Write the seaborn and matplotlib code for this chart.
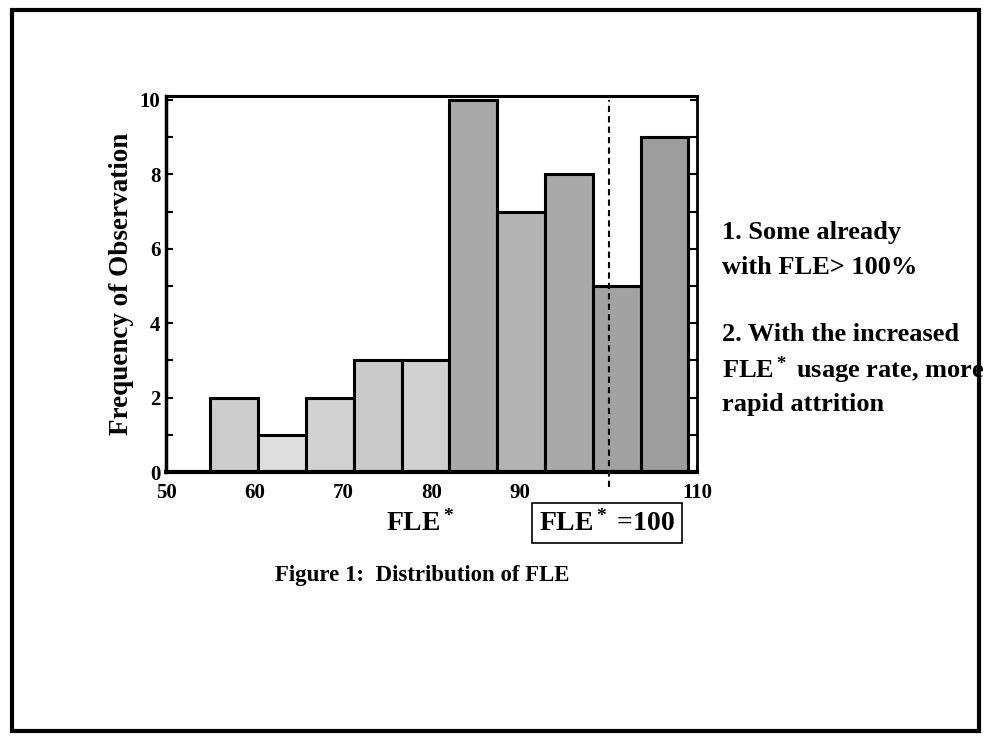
import matplotlib
matplotlib.use("Agg")
import matplotlib.pyplot as plt
import seaborn as sns
import numpy as np
from matplotlib.patches import Rectangle

# Datos
bin_edges = [55.0, 60.4, 65.8, 71.2, 76.6, 82.0, 87.4, 92.8, 98.2, 103.6, 109.0]
counts = [2, 1, 2, 3, 3, 10, 7, 8, 5, 9]
x_ticks = [50, 60, 70, 80, 90, 110]
y_ticks = [0, 2, 4, 6, 8, 10]
fle_ref = 100

notes = [
    "1. Some already",
    "with FLE> 100%",
    "2. With the increased",
    "FLE$^*$ usage rate, more",
    "rapid attrition",
]

bar_colors = ["#cdcdcd", "#dedede", "#d2d2d2", "#c9c9c9", "#d0d0d0",
              "#a9a9a9", "#b3b3b3", "#a9a9a9", "#a2a2a2", "#9d9d9d"]

sns.set_style("white")
plt.rcParams["font.family"] = ["Liberation Serif", "DejaVu Serif"]
plt.rcParams["font.weight"] = "bold"
plt.rcParams["text.color"] = "black"
plt.rcParams["axes.labelcolor"] = "black"
plt.rcParams["xtick.color"] = "black"
plt.rcParams["ytick.color"] = "black"
plt.rcParams["mathtext.fontset"] = "custom"
plt.rcParams["mathtext.rm"] = "Liberation Serif:bold"
plt.rcParams["mathtext.it"] = "Liberation Serif:bold"
plt.rcParams["mathtext.bf"] = "Liberation Serif:bold"

fig = plt.figure(figsize=(9.89, 7.40), dpi=100)
ax = fig.add_axes([0.168, 0.362, 0.537, 0.508])

centers = [(a + b) / 2 for a, b in zip(bin_edges[:-1], bin_edges[1:])]
sns.histplot(x=centers, weights=counts, bins=bin_edges, ax=ax,
             edgecolor="black", linewidth=2.2, alpha=1)
for patch, c in zip(ax.patches, bar_colors):
    patch.set_facecolor(c)

ax.set_xlim(50, 110)
ax.set_ylim(0, 10.1)
ax.set_xticks(x_ticks)
ax.set_yticks(y_ticks)
ax.set_yticks(np.arange(1, 10, 2), minor=True)
ax.set_xticklabels([str(t) for t in x_ticks], fontsize=15, fontweight="bold")
ax.set_yticklabels([str(t) for t in y_ticks], fontsize=15, fontweight="bold")
ax.tick_params(axis="both", which="both", direction="in", length=5, width=1.5,
               right=True, left=True, bottom=True, top=False, pad=4)
ax.tick_params(axis="x", pad=8)
ax.set_ylabel("Frequency of Observation", fontsize=19.5, fontweight="bold", labelpad=4)
ax.set_xlabel("")

for side, lw in [("left", 2.5), ("bottom", 3), ("top", 2.2), ("right", 2)]:
    ax.spines[side].set_visible(True)
    ax.spines[side].set_linewidth(lw)
    ax.spines[side].set_color("black")

ax.axvline(fle_ref, ymin=-0.04, ymax=0.99, color="black", linestyle=(0, (3, 2)),
           linewidth=1.5, clip_on=False)

# Textos
fig.text(0.425, 0.293, "FLE$^*$", fontsize=20, ha="center", va="center")
fig.text(0.614, 0.293, "FLE$^*$ =100", fontsize=20, ha="center", va="center",
         bbox=dict(boxstyle="square,pad=0.25", facecolor="white", edgecolor="black", linewidth=1.2))
fig.text(0.427, 0.222, "Figure 1:  Distribution of FLE", fontsize=16.5, ha="center", va="center")

note_y = [0.686, 0.638, 0.548, 0.500, 0.453]
for txt, y in zip(notes, note_y):
    fig.text(0.730, y, txt, fontsize=19, ha="left", va="center")

# Marco exterior
fig.patches.append(Rectangle((0.012, 0.012), 0.978, 0.975, transform=fig.transFigure,
                             fill=False, edgecolor="black", linewidth=3))

fig.savefig("out.png", dpi=100)
